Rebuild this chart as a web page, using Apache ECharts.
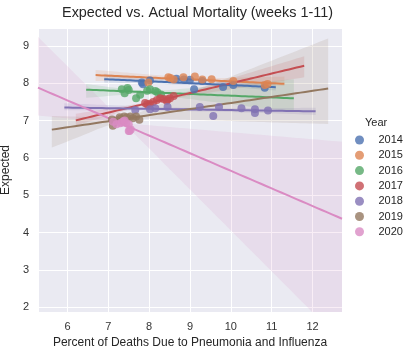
<!DOCTYPE html>
<html><head><meta charset="utf-8">
<script src="https://cdn.jsdelivr.net/npm/echarts@6/dist/echarts.min.js"></script>
<style>html,body{margin:0;padding:0;background:#fff}#c{width:412px;height:354px}</style>
</head><body><div id="c"></div>
<script>
// ---- data ----
const years = ['2014', '2015', '2016', '2017', '2018', '2019', '2020'];
const pct2014 = [7.82, 8.02, 8.67, 9.00, 9.30, 9.10, 9.81, 10.06, 10.83, 8.85, 7.85];
const exp2014 = [8.02, 8.07, 8.12, 8.09, 8.06, 7.84, 7.90, 7.95, 7.88, 8.10, 7.97];
const pct2015 = [7.98, 8.47, 8.52, 8.84, 9.12, 9.53, 10.06, 10.83, 8.60, 9.30, 10.90];
const exp2015 = [8.02, 8.16, 8.14, 8.16, 8.18, 8.11, 8.06, 7.95, 8.10, 8.10, 7.98];
const pct2016 = [7.33, 7.47, 7.40, 7.68, 7.78, 8.02, 8.15, 8.29, 7.50, 7.95, 8.20];
const exp2016 = [7.84, 7.87, 7.73, 7.60, 7.69, 7.84, 7.79, 7.70, 7.82, 7.80, 7.76];
const pct2017 = [7.90, 8.19, 8.27, 8.51, 8.43, 8.02, 8.35, 8.60, 8.10, 8.45, 7.95];
const exp2017 = [7.47, 7.55, 7.60, 7.60, 7.53, 7.45, 7.58, 7.66, 7.50, 7.57, 7.44];
const pct2018 = [7.66, 8.02, 8.15, 8.45, 9.24, 9.57, 9.71, 10.26, 10.59, 10.59, 10.91];
const exp2018 = [7.28, 7.30, 7.33, 7.36, 7.36, 7.12, 7.36, 7.33, 7.30, 7.20, 7.27];
const pct2019 = [7.11, 7.28, 7.39, 7.54, 7.68, 7.76, 7.09, 7.30, 7.45, 7.60, 7.20];
const exp2019 = [6.86, 7.09, 7.11, 7.11, 7.11, 7.02, 7.03, 7.05, 7.08, 7.06, 7.00];
const pct2020 = [7.12, 7.20, 7.29, 7.33, 7.37, 7.44, 7.50, 7.52, 7.55, 7.40, 7.50];
const exp2020 = [6.97, 6.90, 6.93, 6.95, 6.98, 6.93, 6.72, 6.72, 6.76, 7.00, 6.90];
const xTickLabels = [6, 7, 8, 9, 10, 11, 12];
const yTickLabels = [2, 3, 4, 5, 6, 7, 8, 9];

const pctByYear = [pct2014, pct2015, pct2016, pct2017, pct2018, pct2019, pct2020];
const expByYear = [exp2014, exp2015, exp2016, exp2017, exp2018, exp2019, exp2020];
const colors = ['#4C72B0', '#DD8452', '#55A868', '#C44E52', '#8172B3', '#937860', '#DA8BC3'];

// ---- regression with bootstrap CI (like seaborn regplot, seeded) ----
function mulberry32(a) {
  return function () {
    a |= 0; a = a + 0x6D2B79F5 | 0;
    let t = Math.imul(a ^ a >>> 15, 1 | a);
    t = t + Math.imul(t ^ t >>> 7, 61 | t) ^ t;
    return ((t ^ t >>> 14) >>> 0) / 4294967296;
  };
}
function ols(xs, ys, idx) {
  const n = idx.length;
  let mx = 0, my = 0;
  for (const i of idx) { mx += xs[i]; my += ys[i]; }
  mx /= n; my /= n;
  let sxx = 0, sxy = 0;
  for (const i of idx) { sxx += (xs[i] - mx) ** 2; sxy += (xs[i] - mx) * (ys[i] - my); }
  if (sxx < 1e-12) return null;
  const b = sxy / sxx;
  return { a: my - b * mx, b };
}
function pctile(arr, p) {
  const s = arr.slice().sort((u, v) => u - v);
  const h = (s.length - 1) * p, l = Math.floor(h), r = Math.ceil(h);
  return s[l] + (s[r] - s[l]) * (h - l);
}

// x-ranges grow as each year's fit is drawn (autoscale margins of 5%)
let lo = Math.min(...pctByYear.flat()), hi = Math.max(...pctByYear.flat());
const ranges = [];
for (let i = 0; i < years.length; i++) {
  const w = hi - lo; lo -= 0.05 * w; hi += 0.05 * w;
  ranges.push([lo, hi]);
}
const xMin = ranges[ranges.length - 1][0], xMax = ranges[ranges.length - 1][1];

const series = [];
years.forEach((yr, i) => {
  const xs = pctByYear[i], ys = expByYear[i], n = xs.length;
  const all = xs.map((_, k) => k);
  const f = ols(xs, ys, all);
  const [r0, r1] = ranges[i];
  const N = 60, grid = [];
  for (let k = 0; k <= N; k++) grid.push(r0 + (r1 - r0) * k / N);
  const rand = mulberry32(1000 + i * 77);
  const boots = [];
  for (let bI = 0; bI < 1000; bI++) {
    const idx = [];
    for (let k = 0; k < n; k++) idx.push(Math.floor(rand() * n));
    const g = ols(xs, ys, idx);
    if (g) boots.push(g);
  }
  const up = [], dn = [], line = [];
  grid.forEach(x => {
    const vals = boots.map(g => g.a + g.b * x);
    up.push([x, pctile(vals, 0.975)]);
    dn.push([x, pctile(vals, 0.025)]);
    line.push([x, f.a + f.b * x]);
  });
  const poly = up.concat(dn.reverse());
  series.push({
    name: yr, type: 'scatter', data: xs.map((x, j) => [x, ys[j]]),
    symbolSize: 8, itemStyle: { color: colors[i], opacity: 0.8 }, z: 2
  });
  series.push({
    type: 'custom', clip: true, data: [0], silent: true, z: 2,
    renderItem: (params, api) => ({
      type: 'polygon',
      shape: { points: poly.map(p => api.coord(p)) },
      style: { fill: colors[i], opacity: 0.15 }
    })
  });
  series.push({
    type: 'line', data: line, showSymbol: false, silent: true, z: 2,
    lineStyle: { color: colors[i], width: 2 }, itemStyle: { color: colors[i] }
  });
});

const font = 'Liberation Sans';
const chart = echarts.init(document.getElementById('c'), null, { renderer: 'canvas' });
chart.setOption({
  animation: false,
  textStyle: { fontFamily: font },
  grid: { left: 38, right: 70, top: 28, bottom: 42, show: true, backgroundColor: '#EAEAF2', borderWidth: 0,
    containLabel: false, outerBoundsMode: 'none' },
  xAxis: {
    type: 'value', min: xMin, max: xMax, minInterval: 1, maxInterval: 1,
    name: 'Percent of Deaths Due to Pneumonia and Influenza', nameLocation: 'middle', nameGap: 23,
    nameTextStyle: { fontSize: 12, color: '#262626', fontFamily: font },
    axisLine: { show: false }, axisTick: { show: false },
    axisLabel: { fontSize: 11, color: '#333', margin: 9, fontFamily: font,
      formatter: v => xTickLabels.includes(Math.round(v * 1000) / 1000) ? String(Math.round(v)) : '' },
    splitLine: { lineStyle: { color: '#fff', width: 1 } }
  },
  yAxis: {
    type: 'value', min: 1.87, max: 9.48, minInterval: 1, maxInterval: 1,
    name: 'Expected', nameLocation: 'middle', nameGap: 22, nameRotate: 90,
    nameTextStyle: { fontSize: 12, color: '#262626', fontFamily: font },
    axisLine: { show: false }, axisTick: { show: false },
    axisLabel: { fontSize: 11, color: '#333', margin: 9, fontFamily: font,
      formatter: v => yTickLabels.includes(Math.round(v * 1000) / 1000) ? String(Math.round(v)) : '' },
    splitLine: { lineStyle: { color: '#fff', width: 1 } }
  },
  legend: {
    data: years, orient: 'vertical', left: 350, top: 127.5,
    icon: 'circle', itemWidth: 28, itemHeight: 9, itemGap: 0.3,
    textStyle: { fontSize: 11, color: '#262626', lineHeight: 15, fontFamily: font },
    selectedMode: false
  },
  graphic: [
    { type: 'text', x: 197.5, y: 13.5, style: { text: 'Expected vs. Actual Mortality (weeks 1-11)', align: 'center', verticalAlign: 'middle', fontSize: 14.4, fontFamily: font, fill: '#262626' } },
    { type: 'text', x: 365, y: 122.5, style: { text: 'Year', align: 'left', verticalAlign: 'middle', fontSize: 11, fontFamily: font, fill: '#262626' } }
  ],
  series
});
</script></body></html>
